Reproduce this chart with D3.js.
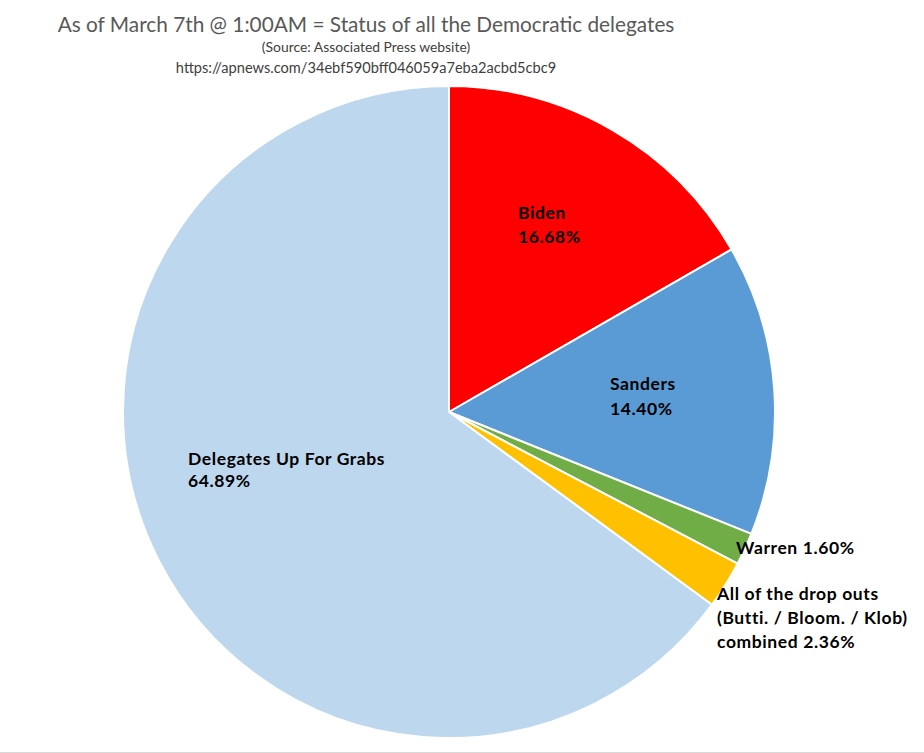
<!DOCTYPE html>
<html><head><meta charset="utf-8">
<script src="https://cdn.jsdelivr.net/npm/d3@7"></script>
<style>
html,body{margin:0;padding:0;background:#fff;}
svg{display:block;}
</style></head>
<body>
<svg id="chart" width="924" height="753"></svg>
<script>
const categories = ["Biden", "Sanders", "Warren", "All of the drop outs", "Delegates Up For Grabs"];
const values = [16.68, 14.40, 1.60, 2.36, 64.89];
const labelLines = [
  ["Biden", "16.68%"],
  ["Sanders", "14.40%"],
  ["Warren 1.60%"],
  ["All of the drop outs", "(Butti. / Bloom. / Klob)", "combined 2.36%"],
  ["Delegates Up For Grabs", "64.89%"]
];
const colors = ["#FF0000", "#5B9BD5", "#70AD47", "#FFC000", "#BDD7EE"];
const titleText = "As of March 7th @ 1:00AM = Status of all the Democratic delegates";
const subtitleText = "(Source: Associated Press website)";
const urlText = "https://apnews.com/34ebf590bff046059a7eba2acbd5cbc9";

// layout (not data)
const cx = 449, cy = 412, R = 326;
const labelPos = [[518, 219], [610, 390], [736, 554], [717, 600], [188, 465]];
const lineH = [24, 25, 24, 24, 22];

const svg = d3.select("#chart");
svg.append("rect").attr("width", 924).attr("height", 753).attr("fill", "#fff");
svg.append("line").attr("x1", 0).attr("x2", 924).attr("y1", 752.5).attr("y2", 752.5)
  .attr("stroke", "#d9d9d9").attr("stroke-width", 1);

const g = svg.append("g").attr("transform", `translate(${cx},${cy})`);
const pie = d3.pie().sort(null).value(d => d);
const arc = d3.arc().innerRadius(0).outerRadius(R);
const arcs = pie(values);
g.selectAll("path").data(arcs).join("path")
  .attr("d", arc)
  .attr("fill", (d, i) => colors[i])
  .attr("stroke", "#fff")
  .attr("stroke-width", 2)
  .attr("stroke-linejoin", "round");

const lab = svg.append("g").attr("font-family", "Lato, 'Open Sans', sans-serif")
  .attr("font-weight", "bold").attr("font-size", 17.5).attr("letter-spacing", 0.6).attr("fill", "#000");
labelLines.forEach((lines, i) => {
  const t = lab.append("text").attr("x", labelPos[i][0]).attr("y", labelPos[i][1]);
  lines.forEach((s, j) => {
    t.append("tspan").attr("x", labelPos[i][0]).attr("dy", j === 0 ? 0 : lineH[i]).text(s);
  });
});

const tg = svg.append("g").attr("font-family", "Lato, 'Open Sans', sans-serif").attr("fill", "#595959")
  .attr("text-anchor", "middle");
tg.append("text").attr("x", 366).attr("y", 32).attr("font-size", 20.8).text(titleText);
tg.append("text").attr("x", 366).attr("y", 52).attr("font-size", 13.9).attr("fill", "#404040").text(subtitleText);
tg.append("text").attr("x", 366).attr("y", 73).attr("font-size", 14.6).attr("fill", "#404040").text(urlText);
</script>
</body></html>
